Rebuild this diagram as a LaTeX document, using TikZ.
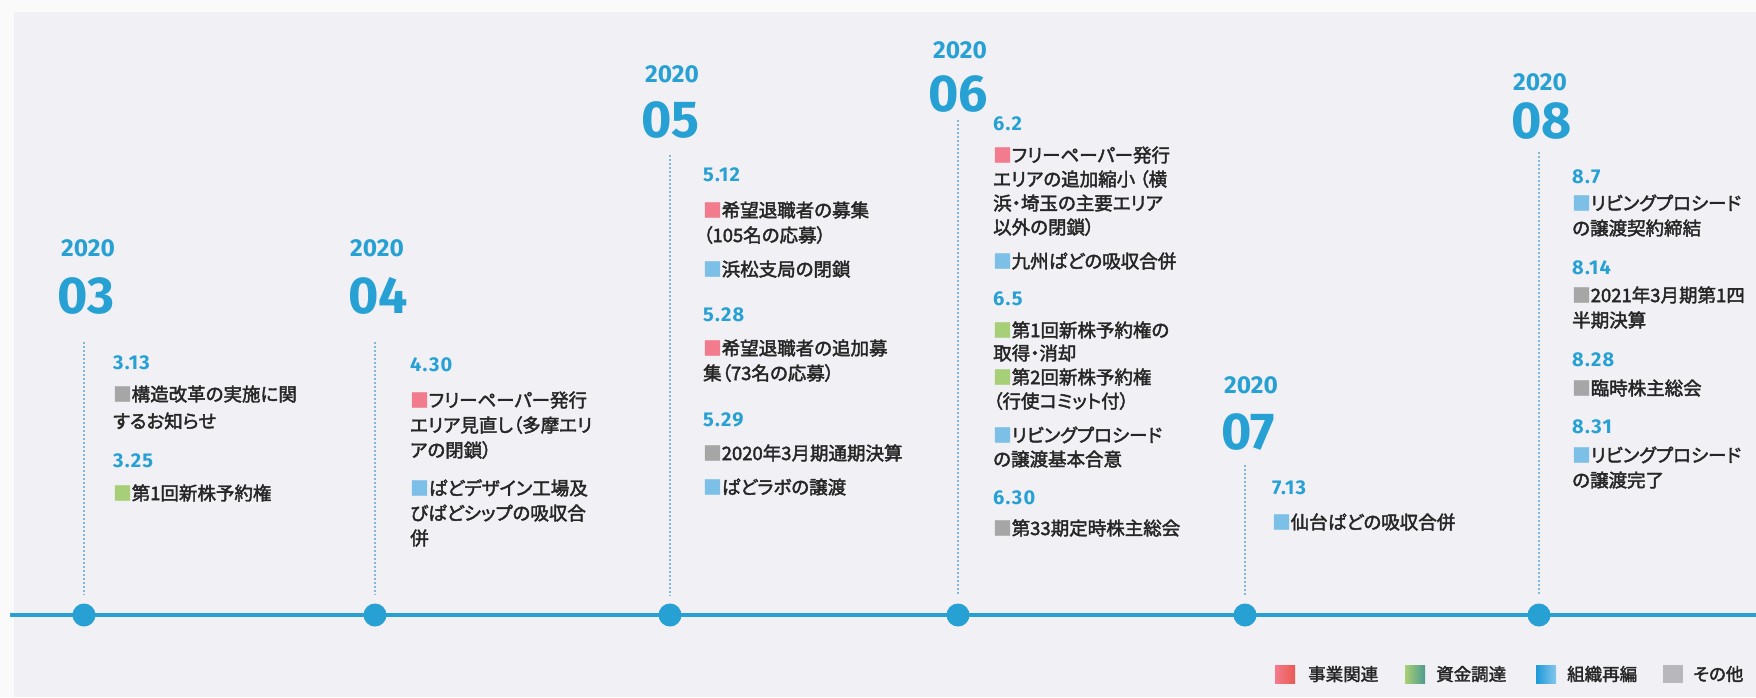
\documentclass[tikz,border=0pt]{standalone}
\usepackage{fontspec}
\newfontfamily\jpf{Noto Sans CJK JP}[RawFeature={+palt}, FakeBold=2.2]
\newfontfamily\dinf{Fira Sans}
\newfontfamily\dinw{Fira Sans}[LetterSpace=6]
\definecolor{bluec}{HTML}{27A0D4}
\definecolor{dotc}{HTML}{80B8D8}
\definecolor{pinkc}{HTML}{F27B8E}
\definecolor{greenc}{HTML}{A6CF78}
\definecolor{lbluec}{HTML}{7CC0E8}
\definecolor{grayc}{HTML}{A6A6A6}
\definecolor{textc}{HTML}{262626}
\definecolor{panelc}{HTML}{F1F1F5}
\definecolor{outerc}{HTML}{FAFAFA}
\definecolor{lgredA}{HTML}{F47A8C}
\definecolor{lgredB}{HTML}{E85A4F}
\definecolor{lggrnA}{HTML}{A8CF72}
\definecolor{lggrnB}{HTML}{4E9A90}
\definecolor{lgbluA}{HTML}{1E9AD8}
\definecolor{lgbluB}{HTML}{86C6EC}
\definecolor{lggray}{HTML}{B8B8BC}
\newcommand\mksq[1]{\textcolor{#1}{■}}
\tikzset{
  jp/.style={font=\jpf\fontsize{18.5}{24}\selectfont, text=textc, anchor=west, inner sep=0pt, text height=16.3pt, text depth=2.2pt},
  dt/.style={font=\dinw\bfseries\fontsize{20}{20}\selectfont, text=bluec, anchor=west, inner sep=0pt, text height=13.8pt, text depth=0pt},
  yr/.style={font=\dinf\bfseries\fontsize{24.5}{24.5}\selectfont, text=bluec, anchor=west, inner sep=0pt, text height=17pt, text depth=0pt},
  mo/.style={font=\dinf\bfseries\fontsize{52}{52}\selectfont, text=bluec, anchor=west, inner sep=0pt, text height=36pt, text depth=0pt},
  dotline/.style={dotc, line width=2pt, dash pattern=on 2pt off 2pt, shorten >=8pt},
  tick/.style={circle, fill=bluec, minimum size=23pt, inner sep=0pt},
  tl/.style={bluec, line width=4pt},
  lg/.style={font=\jpf\fontsize{17.5}{20}\selectfont, text=textc, anchor=west, inner sep=0pt, text height=15.4pt, text depth=2.1pt},
  sw/.style={rectangle, minimum width=20pt, minimum height=18pt, inner sep=0pt, anchor=west}
}
\begin{document}
\begin{tikzpicture}[x=1pt,y=-1pt]
\useasboundingbox (0,0) rectangle (1756,697);
\fill[outerc] (0,0) rectangle (1756,697);
\fill[panelc] (14,12) rectangle (1756,697);
% timeline
\coordinate (tlL) at (10,615);
\coordinate (tlR) at (1756,615);
\draw[tl] (tlL) -- (tlR);
\node[tick] (c03) at (84,615) {};
\node[tick] (c04) at (375,615) {};
\node[tick] (c05) at (670,615) {};
\node[tick] (c06) at (958,615) {};
\node[tick] (c07) at (1245,615) {};
\node[tick] (c08) at (1539,615) {};
\coordinate (d03) at (84,342);
\coordinate (d04) at (375,342);
\coordinate (d05) at (670,155);
\coordinate (d06) at (958,120);
\coordinate (d07) at (1245,465);
\coordinate (d08) at (1539,152);
\draw[dotline] (d03) -- (c03.north);
\draw[dotline] (d04) -- (c04.north);
\draw[dotline] (d05) -- (c05.north);
\draw[dotline] (d06) -- (c06.north);
\draw[dotline] (d07) -- (c07.north);
\draw[dotline] (d08) -- (c08.north);
% 03
\node[yr] (y03) at (61,248) {2020};
\node[mo] (m03) at (57,295) {03};
\node[dt] (t0313) at (113,363) {3.13};
\node[jp] (e03a) at (113,394) {\mksq{grayc}構造改革の実施に関};
\node[jp] (e03b) at (113,421) {するお知らせ};
\node[dt] (t0325) at (113,461) {3.25};
\node[jp] (e03c) at (113,493) {\mksq{greenc}第1回新株予約権};
% 04
\node[yr] (y04) at (350,248) {2020};
\node[mo] (m04) at (348,295) {04};
\node[dt] (t0430) at (410,365) {4.30};
\node[jp] (e04a) at (410,400) {\mksq{pinkc}フリーペーパー発行};
\node[jp] (e04b) at (410,425) {エリア見直し（多摩エリ};
\node[jp] (e04c) at (410,450) {アの閉鎖）};
\node[jp] (e04d) at (410,488) {\mksq{lbluec}ぱどデザイン工場及};
\node[jp] (e04e) at (410,513) {びぱどシップの吸収合};
\node[jp] (e04f) at (410,538) {併};
% 05
\node[yr] (y05) at (645,73.5) {2020};
\node[mo] (m05) at (641,119) {05};
\node[dt] (t0512) at (703,175) {5.12};
\node[jp] (e05a) at (703,210) {\mksq{pinkc}希望退職者の募集};
\node[jp] (e05b) at (703,235) {（105名の応募）};
\node[jp] (e05c) at (703,269) {\mksq{lbluec}浜松支局の閉鎖};
\node[dt] (t0528) at (703,315) {5.28};
\node[jp] (e05d) at (703,348) {\mksq{pinkc}希望退職者の追加募};
\node[jp] (e05e) at (703,373) {集（73名の応募）};
\node[dt] (t0529) at (703,420) {5.29};
\node[jp] (e05f) at (703,453) {\mksq{grayc}2020年3月期通期決算};
\node[jp] (e05g) at (703,487) {\mksq{lbluec}ぱどラボの譲渡};
% 06
\node[yr] (y06) at (933,50) {2020};
\node[mo] (m06) at (928,93.5) {06};
\node[dt] (t0602) at (993,124) {6.2};
\node[jp] (e06a) at (993,155) {\mksq{pinkc}フリーペーパー発行};
\node[jp] (e06b) at (993,179) {エリアの追加縮小 （横};
\node[jp] (e06c) at (993,203) {浜・埼玉の主要エリア};
\node[jp] (e06d) at (993,227) {以外の閉鎖）};
\node[jp] (e06e) at (993,261) {\mksq{lbluec}九州ぱどの吸収合併};
\node[dt] (t0605) at (993,299) {6.5};
\node[jp] (e06f) at (993,330) {\mksq{greenc}第1回新株予約権の};
\node[jp] (e06g) at (993,353) {取得・消却};
\node[jp] (e06h) at (993,377) {\mksq{greenc}第2回新株予約権};
\node[jp] (e06i) at (993,401) {（行使コミット付）};
\node[jp] (e06j) at (993,435) {\mksq{lbluec}リビングプロシード};
\node[jp] (e06k) at (993,459) {の譲渡基本合意};
\node[dt] (t0630) at (993,498) {6.30};
\node[jp] (e06l) at (993,528) {\mksq{grayc}第33期定時株主総会};
% 07
\node[yr] (y07) at (1224,385) {2020};
\node[mo] (m07) at (1221,431) {07};
\node[dt] (t0713) at (1272,488) {7.13};
\node[jp] (e07a) at (1272,522) {\mksq{lbluec}仙台ぱどの吸収合併};
% 08
\node[yr] (y08) at (1513,82) {2020};
\node[mo] (m08) at (1511,120) {08};
\node[dt] (t0807) at (1572,177) {8.7};
\node[jp] (e08a) at (1572,203) {\mksq{lbluec}リビングプロシード};
\node[jp] (e08b) at (1572,228) {の譲渡契約締結};
\node[dt] (t0814) at (1572,268) {8.14};
\node[jp] (e08c) at (1572,295) {\mksq{grayc}2021年3月期第1四};
\node[jp] (e08d) at (1572,320) {半期決算};
\node[dt] (t0828) at (1572,360) {8.28};
\node[jp] (e08e) at (1572,388) {\mksq{grayc}臨時株主総会};
\node[dt] (t0831) at (1572,427) {8.31};
\node[jp] (e08f) at (1572,455) {\mksq{lbluec}リビングプロシード};
\node[jp] (e08g) at (1572,480) {の譲渡完了};
% legend
\node[sw, left color=lgredA, right color=lgredB] (sw1) at (1275,674) {};
\node[lg] (lg1) at (1308,674) {事業関連};
\node[sw, left color=lggrnA, right color=lggrnB] (sw2) at (1405,674) {};
\node[lg] (lg2) at (1436,674) {資金調達};
\node[sw, left color=lgbluA, right color=lgbluB] (sw3) at (1536,674) {};
\node[lg] (lg3) at (1567,674) {組織再編};
\node[sw, fill=lggray] (sw4) at (1663,674) {};
\node[lg] (lg4) at (1693,674) {その他};
\end{tikzpicture}
\end{document}
